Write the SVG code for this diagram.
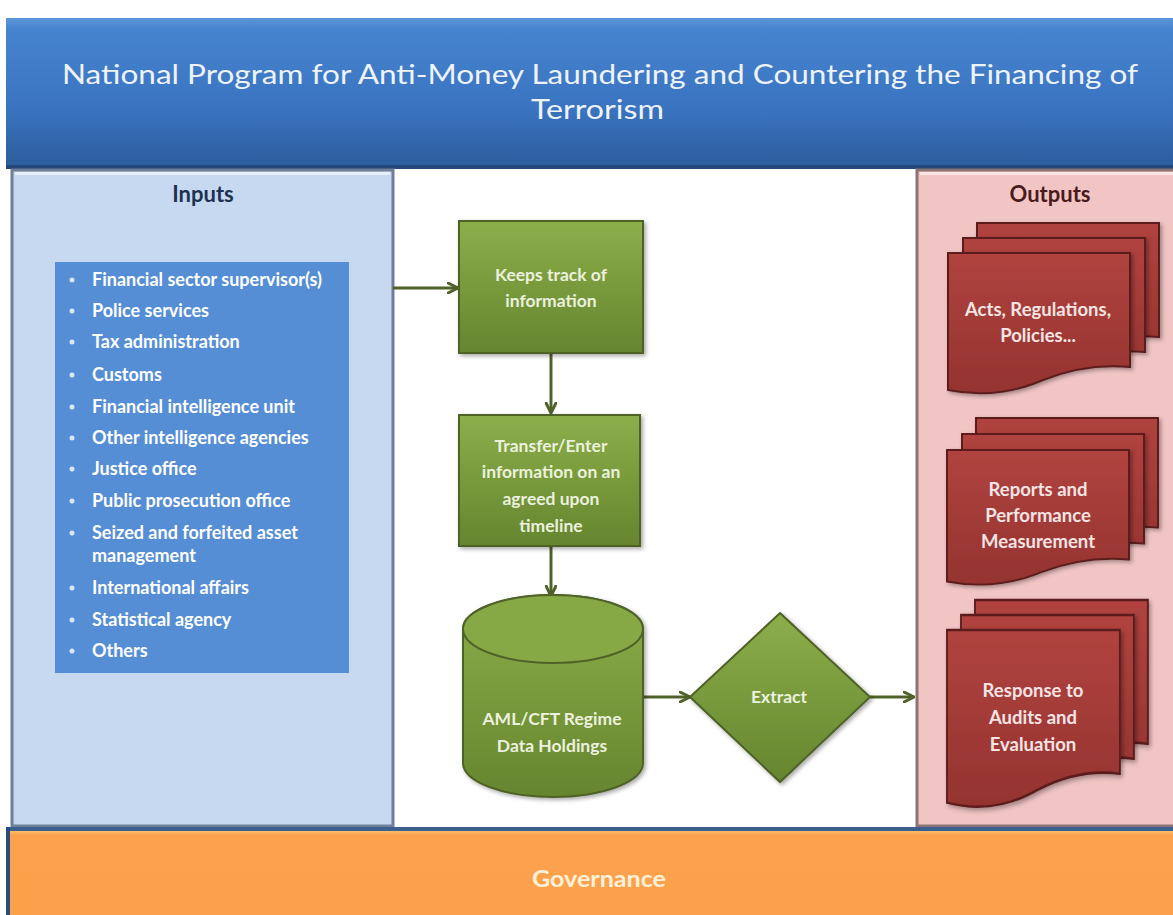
<svg xmlns="http://www.w3.org/2000/svg" width="1173" height="915" viewBox="0 0 1173 915">
<defs>
<linearGradient id="gTitle" x1="0" y1="0" x2="0" y2="1">
<stop offset="0" stop-color="#5d96d8"/><stop offset="0.08" stop-color="#4683cf"/><stop offset="0.6" stop-color="#3a74c0"/><stop offset="1" stop-color="#2c5c9c"/>
</linearGradient>
<linearGradient id="gGreen" x1="0" y1="0" x2="0" y2="1">
<stop offset="0" stop-color="#8cae4a"/><stop offset="0.5" stop-color="#789a3c"/><stop offset="1" stop-color="#66852f"/>
</linearGradient>
<linearGradient id="gRed" x1="0" y1="0" x2="0" y2="1">
<stop offset="0" stop-color="#b0433f"/><stop offset="1" stop-color="#943330"/>
</linearGradient>
<linearGradient id="gGov" x1="0" y1="0" x2="0" y2="1">
<stop offset="0" stop-color="#fbd27f"/><stop offset="0.08" stop-color="#fca24e"/><stop offset="1" stop-color="#fba04b"/>
</linearGradient>
<filter id="sh" x="-10%" y="-10%" width="125%" height="125%">
<feDropShadow dx="2" dy="2" stdDeviation="2" flood-color="#000" flood-opacity="0.35"/>
</filter>
<marker id="ah" viewBox="0 0 12 12" refX="11" refY="6" markerWidth="12" markerHeight="12" markerUnits="userSpaceOnUse" orient="auto">
<path d="M1,1 L11,6 L1,11" fill="none" stroke="#4f6228" stroke-width="3" stroke-linejoin="round" stroke-linecap="round"/>
</marker>
<path id="doc1" d="M0,0 H182 V114 C150,111 120,117 95,127 C65,140 35,144 0,137 Z"/>
</defs>
<style>
.t{font-family:Lato,"Open Sans","Liberation Sans",sans-serif;font-weight:bold}
.li{font-family:Lato,"Open Sans","Liberation Sans",sans-serif;font-weight:bold;font-size:18px;fill:#ffffff}
.gt{font-family:Lato,"Open Sans","Liberation Sans",sans-serif;font-weight:bold;font-size:17.5px;fill:#ebf1de;text-anchor:middle}
.rt{font-family:Lato,"Open Sans","Liberation Sans",sans-serif;font-weight:bold;font-size:18.5px;fill:#f5e4e3;text-anchor:middle}
.green{fill:url(#gGreen);stroke:#4f6228;stroke-width:2;filter:url(#sh)}
.doc{fill:url(#gRed);stroke:#5c1f1e;stroke-width:2;filter:url(#sh)}
.con{stroke:#4f6228;stroke-width:3;fill:none;marker-end:url(#ah)}
</style>
<rect width="1173" height="915" fill="#ffffff"/>

<g id="title">
<rect x="6" y="18" width="1167" height="150" fill="url(#gTitle)"/>
<rect x="6" y="165" width="1167" height="4" fill="#24477a"/>
<text x="62" y="84" font-family="Lato,'Open Sans','Liberation Sans',sans-serif" font-size="27" fill="#eef3fa" textLength="1076" lengthAdjust="spacingAndGlyphs">National Program for Anti-Money Laundering and Countering the Financing of</text>
<text x="531" y="119" font-family="Lato,'Open Sans','Liberation Sans',sans-serif" font-size="27" fill="#eef3fa" textLength="133" lengthAdjust="spacingAndGlyphs">Terrorism</text>
</g>

<g id="inputs">
<rect x="12" y="170" width="381" height="656" fill="#c6d9f0" stroke="#6f7f95" stroke-width="3"/>
<rect x="15" y="172" width="375" height="3" fill="#e6f0fa"/>
<text class="t" x="203" y="202" font-size="22" fill="#1f3150" text-anchor="middle">Inputs</text>
<rect x="55" y="262" width="294" height="411" fill="#558ed5"/>
<g fill="#dbe6f5">
<circle cx="72" cy="280" r="2.5"/><circle cx="72" cy="311" r="2.5"/><circle cx="72" cy="342" r="2.5"/><circle cx="72" cy="375" r="2.5"/>
<circle cx="72" cy="407" r="2.5"/><circle cx="72" cy="438" r="2.5"/><circle cx="72" cy="469" r="2.5"/><circle cx="72" cy="501" r="2.5"/>
<circle cx="72" cy="533" r="2.5"/><circle cx="72" cy="588" r="2.5"/><circle cx="72" cy="620" r="2.5"/><circle cx="72" cy="651" r="2.5"/>
</g>
<text class="li" x="92" y="286">Financial sector supervisor(s)</text>
<text class="li" x="92" y="317">Police services</text>
<text class="li" x="92" y="348">Tax administration</text>
<text class="li" x="92" y="381">Customs</text>
<text class="li" x="92" y="413">Financial intelligence unit</text>
<text class="li" x="92" y="444">Other intelligence agencies</text>
<text class="li" x="92" y="475">Justice office</text>
<text class="li" x="92" y="507">Public prosecution office</text>
<text class="li" x="92" y="539">Seized and forfeited asset</text>
<text class="li" x="92" y="562">management</text>
<text class="li" x="92" y="594">International affairs</text>
<text class="li" x="92" y="626">Statistical agency</text>
<text class="li" x="92" y="657">Others</text>
</g>

<g id="outputs">
<rect x="917" y="170" width="258" height="656" fill="#f2c5c5" stroke="#8a7373" stroke-width="3"/>
<rect x="920" y="172" width="253" height="3" fill="#fbe6e6"/>
<text class="t" x="1050" y="202" font-size="22" fill="#4a1b1b" text-anchor="middle">Outputs</text>
</g>

<g id="governance">
<rect x="6" y="828" width="1167" height="87" fill="url(#gGov)"/>
<rect x="6" y="827" width="1167" height="4" fill="#3b5f8f"/>
<rect x="6" y="827" width="4" height="88" fill="#2a4d7e"/>
<text class="t" x="532" y="887" font-size="22" fill="#fdf0d8" textLength="134" lengthAdjust="spacingAndGlyphs">Governance</text>
</g>

<g id="connectors">
<line class="con" x1="393" y1="288" x2="458" y2="288"/>
<line class="con" x1="551" y1="353" x2="551" y2="413"/>
<line class="con" x1="551" y1="546" x2="551" y2="596"/>
<line class="con" x1="644" y1="697" x2="690" y2="697"/>
<line class="con" x1="870" y1="697" x2="914" y2="697"/>
</g>

<g id="keeps-track">
<rect class="green" x="459" y="221" width="184" height="132"/>
<text class="gt" x="551" y="281">Keeps track of</text>
<text class="gt" x="551" y="307">information</text>
</g>

<g id="transfer">
<rect class="green" x="459" y="415" width="181" height="131"/>
<text class="gt" x="551" y="452">Transfer/Enter</text>
<text class="gt" x="551" y="478">information on an</text>
<text class="gt" x="551" y="505">agreed upon</text>
<text class="gt" x="551" y="532">timeline</text>
</g>

<g id="data-holdings">
<path class="green" d="M463,629 A90,34 0 0 1 643,629 V763 A90,34 0 0 1 463,763 Z"/>
<ellipse cx="553" cy="629" rx="90" ry="34" fill="#86a845" stroke="#4f6228" stroke-width="2"/>
<text class="gt" x="552" y="725">AML/CFT Regime</text>
<text class="gt" x="552" y="752">Data Holdings</text>
</g>

<g id="extract">
<path class="green" d="M780,613 L870,697 L780,782 L690,697 Z"/>
<text class="gt" x="779" y="703">Extract</text>
</g>

<g id="doc-acts">
<use href="#doc1" class="doc" transform="translate(977,223)"/>
<use href="#doc1" class="doc" transform="translate(963,238)"/>
<use href="#doc1" class="doc" transform="translate(948,253)"/>
<text class="rt" x="1038" y="316">Acts, Regulations,</text>
<text class="rt" x="1038" y="342">Policies...</text>
</g>

<g id="doc-reports">
<use href="#doc1" class="doc" transform="translate(976,418) scale(1,0.96)"/>
<use href="#doc1" class="doc" transform="translate(962,434) scale(1,0.96)"/>
<use href="#doc1" class="doc" transform="translate(947,450) scale(1,0.96)"/>
<text class="rt" x="1038" y="496">Reports and</text>
<text class="rt" x="1038" y="522">Performance</text>
<text class="rt" x="1038" y="548">Measurement</text>
</g>

<g id="doc-response">
<use href="#doc1" class="doc" transform="translate(975,600) scale(0.95,1.26)"/>
<use href="#doc1" class="doc" transform="translate(961,615) scale(0.95,1.26)"/>
<use href="#doc1" class="doc" transform="translate(947,630) scale(0.95,1.26)"/>
<text class="rt" x="1033" y="697">Response to</text>
<text class="rt" x="1033" y="724">Audits and</text>
<text class="rt" x="1033" y="751">Evaluation</text>
</g>
</svg>
